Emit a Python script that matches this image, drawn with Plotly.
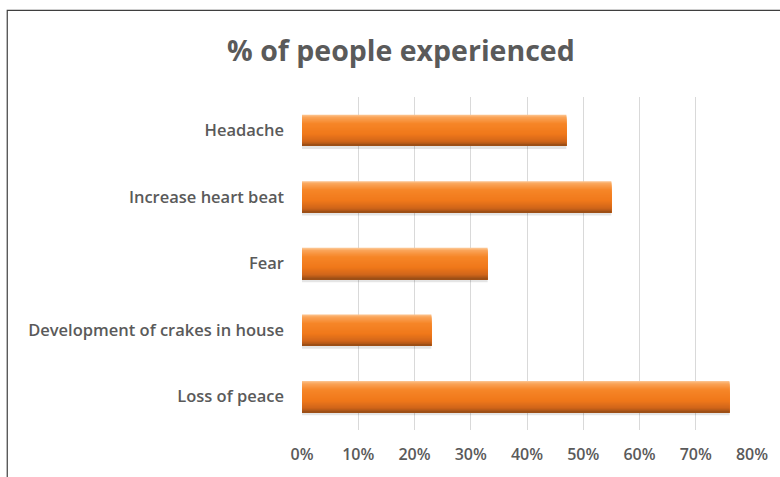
import plotly.graph_objects as go

# Categories listed bottom-to-top along the y axis
categories = ["Loss of peace", "Development of crakes in house", "Fear",
              "Increase heart beat", "Headache"]
values = [0.76, 0.23, 0.33, 0.55, 0.47]
x_tickvals = [0, 0.1, 0.2, 0.3, 0.4, 0.5, 0.6, 0.7, 0.8]
x_ticktext = ["0%", "10%", "20%", "30%", "40%", "50%", "60%", "70%", "80%"]

TEXT = "#5A5A5A"
FONT = "Open Sans"
BAR_W = 0.47
N_STRIPES = 30

# colour stops for the shaded bar, top edge (0) to bottom edge (1)
stops = [(0.0, (252, 200, 150)), (0.08, (250, 165, 90)), (0.28, (246, 134, 40)),
         (0.62, (240, 120, 26)), (0.86, (208, 101, 26)), (1.0, (150, 76, 22))]


def shade(t):
    for (t0, c0), (t1, c1) in zip(stops, stops[1:]):
        if t0 <= t <= t1:
            f = (t - t0) / (t1 - t0)
            r, g, b = (round(a + (b_ - a) * f) for a, b_ in zip(c0, c1))
            return f"rgb({r},{g},{b})"
    return "rgb(%d,%d,%d)" % stops[-1][1]


fig = go.Figure()

# soft shadow under each bar
fig.add_trace(go.Bar(
    y=categories, x=values, orientation="h",
    width=0.05, offset=-BAR_W / 2 - 0.045,
    marker=dict(color="rgba(0,0,0,0.10)", line=dict(width=0)),
    hoverinfo="skip", showlegend=False))

# vertical gradient: each layer runs from its own top edge down to the
# bar's bottom, so later (darker) layers cover the lower part of earlier ones
step = BAR_W / N_STRIPES
for i in range(N_STRIPES):
    t = (i + 0.5) / N_STRIPES
    h = BAR_W - i * step
    fig.add_trace(go.Bar(
        y=categories, x=values, orientation="h",
        width=h, offset=-BAR_W / 2,
        marker=dict(color=shade(t), line=dict(width=0)),
        hoverinfo="skip", showlegend=False))

fig.update_layout(
    width=780, height=477,
    margin=dict(l=302, r=28, t=97, b=45),
    paper_bgcolor="white", plot_bgcolor="white",
    barmode="overlay",
    title=dict(text="<b>% of people experienced</b>", x=0.514, xanchor="center",
               y=0.893, yanchor="middle",
               font=dict(family=FONT, size=28.5, color=TEXT)),
    xaxis=dict(range=[0, 0.8], tickvals=x_tickvals, ticktext=x_ticktext,
               showgrid=True, gridcolor="#D9D9D9", gridwidth=1,
               zeroline=False, showline=False, ticks="",
               ticklabelstandoff=13,
               tickfont=dict(family=FONT, size=16, weight=600, color=TEXT)),
    yaxis=dict(categoryorder="array", categoryarray=categories,
               range=[-0.5, 4.5], showgrid=False, zeroline=False,
               showline=False, ticks="", ticklabelstandoff=17,
               tickfont=dict(family=FONT, size=16.5, weight=600, color=TEXT)),
    shapes=[dict(type="path", xref="paper", yref="paper",
                 path="M -0.655 -0.2 L -0.655 1.26 L 1.2 1.26",
                 line=dict(color="#3F3F3F", width=1.2))],
)

fig.write_html("out.html")
